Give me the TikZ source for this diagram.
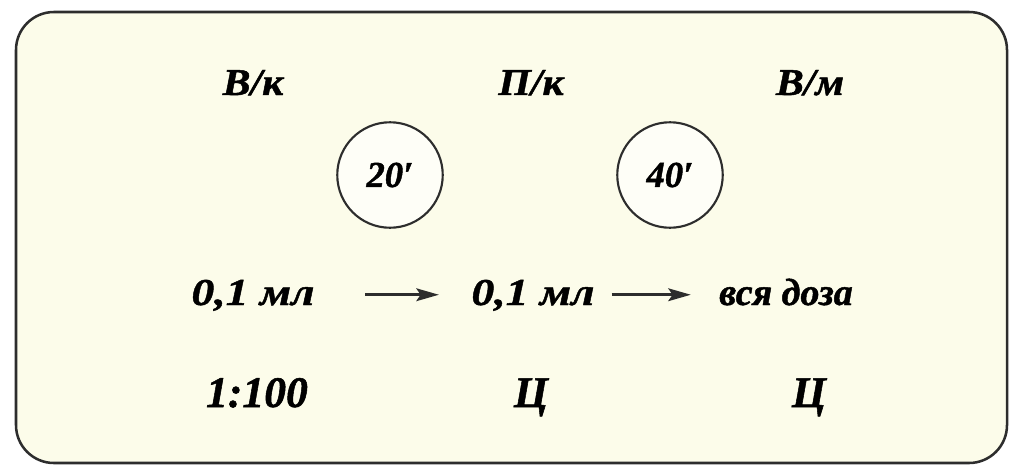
\documentclass[tikz,border=0pt]{standalone}
\usepackage{fontspec}
\setmainfont{Liberation Serif}[FakeBold=1.2]
\usepackage{tikz}
\usetikzlibrary{arrows.meta,positioning,calc}
\definecolor{cream}{RGB}{252,252,234}
\definecolor{frame}{RGB}{45,45,45}
\tikzset{
  hnode/.style={inner sep=0pt,anchor=base,font=\fontsize{27}{30}\selectfont\bfseries\itshape\addfontfeature{FakeStretch=1.1}},
  dosenode/.style={inner sep=0pt,anchor=base,font=\fontsize{27}{30}\selectfont\bfseries\itshape\addfontfeature{FakeStretch=1.2}},
  wnode/.style={inner sep=0pt,anchor=base,font=\fontsize{27}{30}\selectfont\bfseries\itshape},
  cnode/.style={inner sep=0pt,anchor=base,font=\fontsize{31}{34}\selectfont\bfseries\itshape},
  tnode/.style={circle,draw=frame,line width=1.5pt,fill=white!60!cream,minimum size=75pt,inner sep=0pt,font=\fontsize{26}{30}\selectfont\bfseries\itshape},
  arr/.style={-{Stealth[length=16pt,width=9pt,inset=3pt]},line width=2.2pt,draw=frame}
}
\begin{document}
\begin{tikzpicture}[x=0.025cm,y=-0.025cm]
\useasboundingbox (0,0) rectangle (1010,466);
\draw[frame,fill=cream,line width=1.8pt,rounded corners=27pt] (16,12) rectangle (1007,463);
% route
\node[hnode] (Vk) at (253,95) {В/к};
\node[hnode] (Pk) at (531,95) {П/к};
\node[hnode] (Vm) at (810,95) {В/м};
% interval
\node[tnode] (T1) at (390,175) {20′};
\node[tnode] (T2) at (670,175) {40′};
% dose
\node[dosenode] (D1) at (253,305) {0,1 мл};
\node[dosenode] (D2) at (533,305) {0,1 мл};
\node[wnode] (D3) at (786,305) {вся доза};
\draw[arr,shorten <=36pt,shorten >=23pt] ([yshift=5pt]D1.mid east) -- ([yshift=5pt]D2.mid west);
\draw[arr,shorten <=12pt,shorten >=20pt] ([yshift=5pt]D2.mid east) -- ([yshift=5pt]D3.mid west);
% concentration
\node[cnode] (C1) at (257,407) {1:100};
\node[cnode] (C2) at (531,407) {Ц};
\node[cnode] (C3) at (809,407) {Ц};
\end{tikzpicture}
\end{document}
